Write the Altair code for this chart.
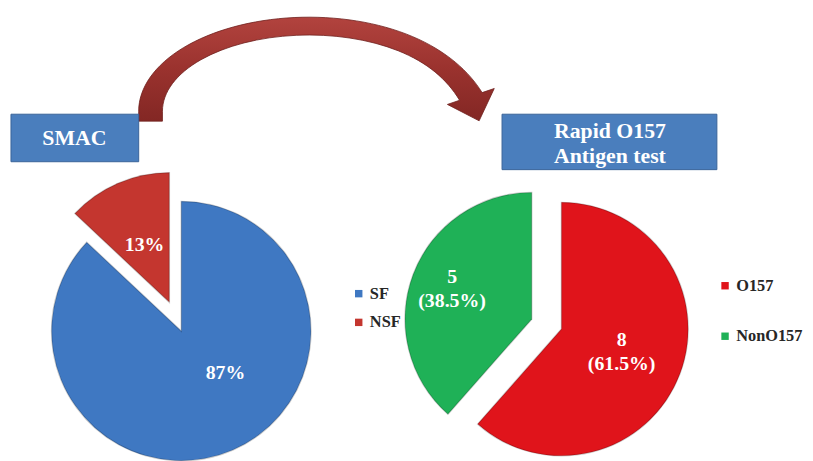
import math
import altair as alt
import pandas as pd

# ---------------- data ----------------
smac_categories = ["SF", "NSF"]
smac_percent = [87, 13]
smac_labels = ["87%", "13%"]

rapid_categories = ["O157", "NonO157"]
rapid_counts = [8, 5]
rapid_percent = [61.5, 38.5]
rapid_labels = ["8\n(61.5%)", "5\n(38.5%)"]

box_titles = ["SMAC", "Rapid O157\nAntigen test"]

smac_colors = ["#3F78C2", "#C4362F"]
rapid_colors = ["#E0141B", "#1FB157"]

smac_df = pd.DataFrame({"cat": smac_categories, "value": smac_percent,
                        "label": smac_labels, "order": [0, 1]})
rapid_df = pd.DataFrame({"cat": rapid_categories, "value": rapid_percent,
                         "count": rapid_counts, "label": rapid_labels, "order": [0, 1]})

W, H = 805, 453
FONT = "Liberation Serif"
theta_scale = alt.Scale(domain=[0, 100], range=[0, 2 * math.pi])


def base(df):
    return alt.Chart(df).transform_window(
        cum="sum(value)", sort=[alt.SortField("order")], frame=[None, 0]
    ).transform_calculate(
        start="datum.cum - datum.value",
        mid="datum.cum - datum.value / 2",
    )


def slice_layer(df, cat, cx, cy, r, cscale, legend):
    return base(df).transform_filter(alt.datum.cat == cat).mark_arc(
        radius=r, stroke="#000000", strokeOpacity=0.2, strokeWidth=1.4
    ).encode(
        x=alt.value(cx), y=alt.value(cy),
        theta=alt.Theta("start:Q", scale=theta_scale, stack=None),
        theta2=alt.Theta2("cum:Q"),
        color=alt.Color("cat:N", scale=cscale, legend=legend),
    )


def label_layer(df, cat, cx, cy, r, dx=0, dy=0):
    return base(df).transform_filter(alt.datum.cat == cat).mark_text(
        radius=r, dx=dx, dy=dy, font=FONT, fontWeight="bold", fontSize=20,
        color="white", lineBreak="\n", lineHeight=24, align="center", baseline="middle"
    ).encode(
        x=alt.value(cx), y=alt.value(cy),
        theta=alt.Theta("mid:Q", scale=theta_scale, stack=None),
        text="label:N",
    )


def make_legend(lx, ly, row_pad):
    return alt.Legend(
        orient="none", legendX=lx, legendY=ly, title=None, padding=0,
        symbolType="square", symbolSize=56, symbolStrokeWidth=0,
        labelFont=FONT, labelFontWeight="bold", labelFontSize=16.5, labelColor="#262626",
        labelOffset=3, rowPadding=row_pad, direction="vertical",
    )


# ---------------- left pie (SMAC) ----------------
smac_scale = alt.Scale(domain=smac_categories, range=smac_colors)
smac_leg = make_legend(346, 278, 12)
R1 = 131
left = alt.layer(
    slice_layer(smac_df, "SF", 175, 324, R1, smac_scale, smac_leg),
    slice_layer(smac_df, "NSF", 163, 295, R1, smac_scale, smac_leg),
    label_layer(smac_df, "SF", 175, 324, 62, dx=20, dy=-14),
    label_layer(smac_df, "NSF", 163, 295, 63),
)

# ---------------- right pie (Rapid test) ----------------
rapid_scale = alt.Scale(domain=rapid_categories, range=rapid_colors)
rapid_leg = make_legend(716, 270, 34)
R2 = 128
right = alt.layer(
    slice_layer(rapid_df, "O157", 559, 322, R2, rapid_scale, rapid_leg),
    slice_layer(rapid_df, "NonO157", 529, 312, R2, rapid_scale, rapid_leg),
    label_layer(rapid_df, "O157", 559, 322, 65, dy=-12),
    label_layer(rapid_df, "NonO157", 529, 312, 86, dy=-12),
)

# ---------------- curved arrow (decoration, custom symbol path) ----------------
ACX, ACY = 304, 102          # ellipse centre (chart px)
S = 200.0                     # px per path unit -> size = (2*S)^2


def ep(rx, ry, t):
    return (rx * math.sin(t), -ry * math.cos(t))


def ed(rx, ry, t):
    return (rx * math.cos(t), ry * math.sin(t))


def bez(rx, ry, a, b, nseg=4):
    cmds = []
    step = (b - a) / nseg
    for i in range(nseg):
        t0 = a + i * step
        t1 = t0 + step
        k = 4.0 / 3.0 * math.tan((t1 - t0) / 4.0)
        p0 = ep(rx, ry, t0); p3 = ep(rx, ry, t1)
        d0 = ed(rx, ry, t0); d1 = ed(rx, ry, t1)
        p1 = (p0[0] + k * d0[0], p0[1] + k * d0[1])
        p2 = (p3[0] - k * d1[0], p3[1] - k * d1[1])
        cmds.append((p1, p2, p3))
    return cmds


def fmt(p):
    return f"{p[0] / S:.4f},{p[1] / S:.4f}"


t_start = math.radians(-90)
t_end = math.radians(80)
ORX, ORY = 172, 95
IRX, IRY = 148, 77
MRX, MRY = 166, 86
outer = bez(ORX, ORY, t_start, t_end)
inner = bez(IRX, IRY, t_end, t_start)
mid = ep(MRX, MRY, t_end)
tg = ed(MRX, MRY, t_end)
tl = math.hypot(*tg)
tg = (tg[0] / tl, tg[1] / tl)
nm = (tg[1], -tg[0])
wing_o = (mid[0] + 25 * nm[0], mid[1] + 25 * nm[1])
wing_i = (mid[0] - 25 * nm[0], mid[1] - 25 * nm[1])
tip = (mid[0] + 26 * tg[0], mid[1] + 26 * tg[1])
oe = (mid[0] + 12 * nm[0], mid[1] + 12 * nm[1])
ie = (mid[0] - 12 * nm[0], mid[1] - 12 * nm[1])

o0 = ep(ORX, ORY, t_start)
i0 = ep(IRX, IRY, t_start)
path = "M" + fmt((o0[0], o0[1] + 10)) + "L" + fmt(o0)
for p1, p2, p3 in outer[:-1]:
    path += "C" + fmt(p1) + " " + fmt(p2) + " " + fmt(p3)
p1, p2, p3 = outer[-1]
path += "C" + fmt(p1) + " " + fmt(p2) + " " + fmt(oe)
path += "L" + fmt(wing_o) + "L" + fmt(tip) + "L" + fmt(wing_i)
path += "L" + fmt(ie)
for p1, p2, p3 in inner:
    path += "C" + fmt(p1) + " " + fmt(p2) + " " + fmt(p3)
path += "L" + fmt((i0[0], i0[1] + 10)) + "Z"

one = pd.DataFrame({"k": [0]})
arrow_grad = alt.Gradient(
    gradient="linear", x1=0, y1=0, x2=0, y2=1,
    stops=[alt.GradientStop(color="#B2433E", offset=0),
           alt.GradientStop(color="#9A322E", offset=0.5),
           alt.GradientStop(color="#832724", offset=1)],
)
arrow = alt.Chart(one).mark_point(
    shape=path, size=(2 * S) ** 2, filled=True, fill=arrow_grad, opacity=1,
    stroke="#6E1E1C", strokeWidth=0.8,
).encode(x=alt.value(ACX), y=alt.value(ACY))

# ---------------- title boxes ----------------
box1 = alt.Chart(one).mark_rect(fill="#4A7EBD", stroke="#3A6399", strokeWidth=1).encode(
    x=alt.value(3), x2=alt.value(132), y=alt.value(105), y2=alt.value(153))
box2 = alt.Chart(one).mark_rect(fill="#4A7EBD", stroke="#3A6399", strokeWidth=1).encode(
    x=alt.value(499), x2=alt.value(716), y=alt.value(105), y2=alt.value(161))
t1 = alt.Chart(one).mark_text(font=FONT, fontWeight="bold", fontSize=22, color="white",
                              align="center", baseline="middle").encode(
    x=alt.value(67), y=alt.value(129), text=alt.value(box_titles[0]))
t2 = alt.Chart(one).mark_text(font=FONT, fontWeight="bold", fontSize=22, color="white",
                              align="center", baseline="middle", lineBreak="\n",
                              lineHeight=25).encode(
    x=alt.value(608), y=alt.value(122), text=alt.value(box_titles[1]))

chart = alt.layer(arrow, box1, box2, t1, t2, left, right).resolve_scale(
    color="independent"
).properties(
    width=W, height=H, padding=0, autosize=alt.AutoSizeParams(type="none"),
    background="white",
).configure_view(stroke=None)

chart.save("out.html", embed_options={"renderer": "svg", "actions": False})
